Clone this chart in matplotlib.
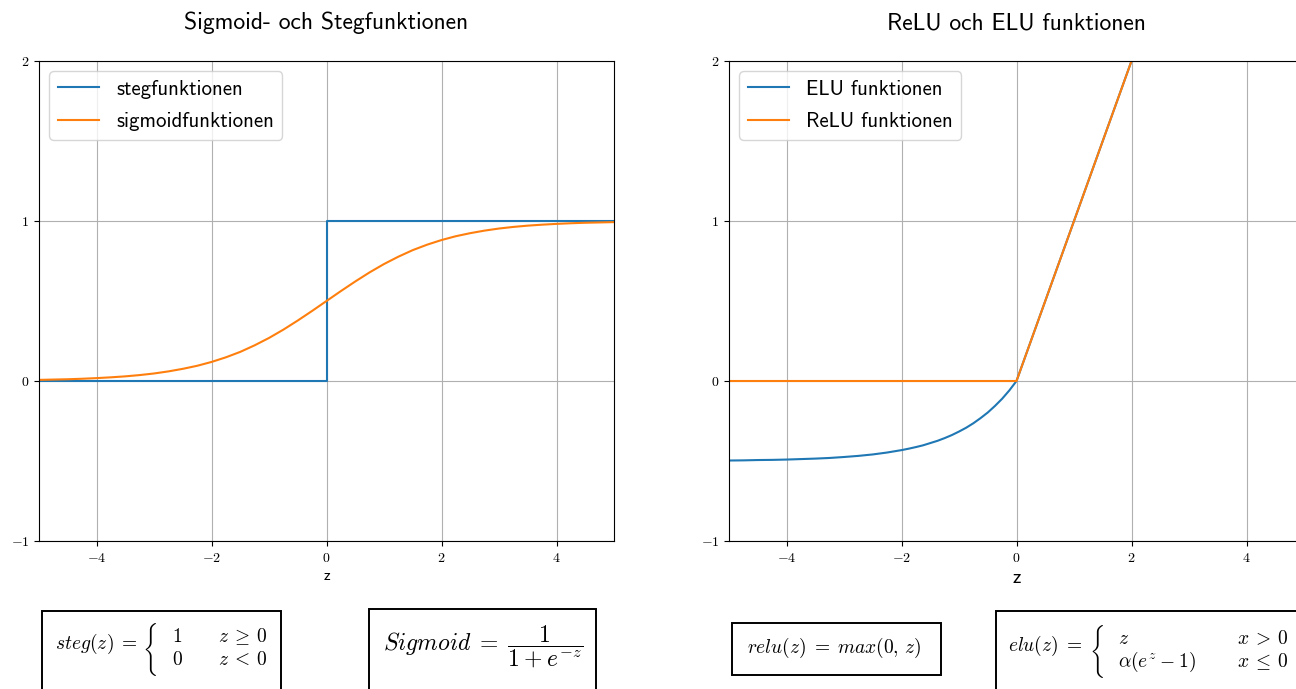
import os
import matplotlib
matplotlib.use('Agg')
import matplotlib.pyplot as plt
from matplotlib.patches import Rectangle
from matplotlib.ticker import FuncFormatter
from matplotlib.font_manager import FontProperties

plt.rcParams['mathtext.fontset'] = 'cm'

# step function
steg_z = [-5, 0, 0, 5]
steg_y = [0, 0, 1, 1]

sig_z = [-5 + 0.25 * i for i in range(41)]
sig_y = [0.007, 0.009, 0.011, 0.014, 0.018, 0.023, 0.029, 0.037, 0.047, 0.060,
         0.076, 0.095, 0.119, 0.148, 0.182, 0.223, 0.269, 0.321, 0.378, 0.438,
         0.500, 0.562, 0.622, 0.679, 0.731, 0.777, 0.818, 0.852, 0.881, 0.905,
         0.924, 0.940, 0.953, 0.963, 0.971, 0.977, 0.982, 0.986, 0.989, 0.991,
         0.993]

# ELU: flat part every 0.25, steep part every 0.125, then straight line
elu_z = [-5, -4.75, -4.5, -4.25, -4, -3.75, -3.5, -3.25, -3, -2.75, -2.5, -2.25,
         -2, -1.875, -1.75, -1.625, -1.5, -1.375, -1.25, -1.125, -1, -0.875,
         -0.75, -0.625, -0.5, -0.375, -0.25, -0.125, 0, 5]
elu_y = [-0.497, -0.496, -0.494, -0.493, -0.491, -0.488, -0.485, -0.481, -0.475,
         -0.468, -0.459, -0.447, -0.432, -0.423, -0.413, -0.402, -0.388, -0.374,
         -0.357, -0.338, -0.316, -0.292, -0.264, -0.232, -0.197, -0.156, -0.111,
         -0.059, 0.0, 5.0]

relu_z = [-5, 0, 5]
relu_y = [0, 0, 5]

xticks = [-4, -2, 0, 2, 4]
yticks = [-1, 0, 1, 2]

W, H = 1296, 689
fig = plt.figure(figsize=(W / 100, H / 100), dpi=100)

sans = 'cmss10'
cmex = FontProperties(fname=os.path.join(matplotlib.get_data_path(), 'fonts', 'ttf', 'cmex10.ttf'))

def fx(px):
    return px / W

def fy(py):
    return 1 - py / H

def setup(ax, title, xlabel_size):
    ax.set_xlim(-5, 5)
    ax.set_ylim(-1, 2)
    ax.set_xticks(xticks)
    ax.set_yticks(yticks)
    fmt = FuncFormatter(lambda v, p: '$%d$' % v)
    ax.xaxis.set_major_formatter(fmt)
    ax.yaxis.set_major_formatter(fmt)
    ax.tick_params(labelsize=10)
    ax.grid(True, color='#b0b0b0', lw=0.8)
    ax.set_title(title, fontfamily=sans, fontsize=17, pad=23)
    ax.set_xlabel('z', fontfamily=sans, fontsize=xlabel_size, labelpad=3)
    ax.legend(loc='upper left', prop={'family': sans, 'size': 15}, labelspacing=0.65)

ax1 = fig.add_axes([fx(39), fy(541), 575 / W, 480 / H])
ax1.plot(steg_z, steg_y, label='stegfunktionen')
ax1.plot(sig_z, sig_y, label='sigmoidfunktionen')
setup(ax1, 'Sigmoid- och Stegfunktionen', 11)

ax2 = fig.add_axes([fx(729), fy(541), 575 / W, 480 / H])
ax2.plot(elu_z, elu_y, label='ELU funktionen')
ax2.plot(relu_z, relu_y, label='ReLU funktionen')
setup(ax2, 'ReLU och ELU funktionen', 14)

# formula boxes (pixel rectangles: x0, x1, y_top, y_bottom)
boxes = [(42, 281, 611, 700), (369, 596, 609, 700), (732, 941, 623, 675), (996, 1310, 611, 700)]
for x0, x1, yt, yb in boxes:
    fig.add_artist(Rectangle((fx(x0), fy(yb)), (x1 - x0) / W, (yb - yt) / H,
                             transform=fig.transFigure, fill=False, ec='black', lw=1.4))

fs = 14

def brace(x, y):
    fig.text(fx(x), fy(y), '\xbd', fontproperties=cmex, fontsize=fs + 1,
             ha='center', va='center')

# steg(z)
fig.text(fx(55), fy(649), r'$steg(z)\;=\;$', ha='left', va='baseline', fontsize=fs)
brace(150, 649)
fig.text(fx(172), fy(642), r'$1$', ha='left', va='baseline', fontsize=fs)
fig.text(fx(172), fy(665), r'$0$', ha='left', va='baseline', fontsize=fs)
fig.text(fx(218), fy(642), r'$z\:\geq\:0$', ha='left', va='baseline', fontsize=fs)
fig.text(fx(218), fy(665), r'$z\:<\:0$', ha='left', va='baseline', fontsize=fs)

# sigmoid
fig.text(fx(383), fy(647), r'$Sigmoid\;=\;\dfrac{1}{1\:+\:e^{-z}}$',
         ha='left', va='center', fontsize=17)

# relu
fig.text(fx(747), fy(653), r'$relu(z)\;=\;max(0,\,z)$', ha='left', va='baseline', fontsize=fs)

# elu
fig.text(fx(1008), fy(651), r'$elu(z)\;=\;$', ha='left', va='baseline', fontsize=fs)
brace(1097, 651)
fig.text(fx(1118), fy(644), r'$z$', ha='left', va='baseline', fontsize=fs)
fig.text(fx(1118), fy(667), r'$\alpha(e^z\:-\:1)$', ha='left', va='baseline', fontsize=fs)
fig.text(fx(1237), fy(644), r'$x\:>\:0$', ha='left', va='baseline', fontsize=fs)
fig.text(fx(1237), fy(667), r'$x\:\leq\:0$', ha='left', va='baseline', fontsize=fs)

fig.savefig('out.png', dpi=100)
